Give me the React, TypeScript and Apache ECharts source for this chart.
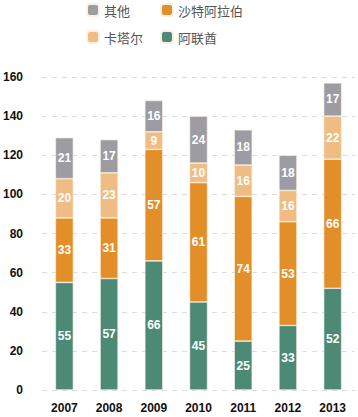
import React, { useEffect, useRef } from "react";
import * as echarts from "echarts";

const years = ["2007", "2008", "2009", "2010", "2011", "2012", "2013"];
const uae = [55, 57, 66, 45, 25, 33, 52];
const saudi = [33, 31, 57, 61, 74, 53, 66];
const qatar = [20, 23, 9, 10, 16, 16, 22];
const others = [21, 17, 16, 24, 18, 18, 17];
const yTicks = { min: 0, max: 160, interval: 20 };

const COLORS = {
  uae: "#4d8a76",
  saudi: "#e38f29",
  qatar: "#efbc84",
  others: "#9d9ca3",
};

export default function App() {
  const ref = useRef<HTMLDivElement>(null);
  useEffect(() => {
    if (!ref.current) return;
    const chart = echarts.init(ref.current, undefined, { renderer: "svg" });
    const font = "'Liberation Sans', Arial, sans-serif";
    const mk = (name: string, data: number[], color: string) => ({
      name,
      type: "bar",
      stack: "total",
      data,
      barWidth: 18,
      itemStyle: { color, borderColor: "#fbf1e2", borderWidth: 0.6 },
      label: {
        show: true,
        position: "inside",
        color: "#fff",
        fontWeight: "bold",
        fontSize: 12,
        fontFamily: font,
      },
    });
    const legendBase = {
      orient: "vertical",
      top: 3,
      itemWidth: 12,
      itemHeight: 12,
      itemGap: 13,
      icon: "roundRect",
      textStyle: {
        color: "#555",
        fontSize: 13,
        fontFamily: "'Noto Sans CJK SC', sans-serif",
        padding: [0, 0, 0, 0],
      },
      padding: 0,
    };
    chart.setOption({
      animation: false,
      backgroundColor: "#fff",
      legend: [
        { ...legendBase, left: 86, data: ["其他", "卡塔尔"] },
        { ...legendBase, left: 160, data: ["沙特阿拉伯", "阿联酋"] },
      ],
      grid: { left: 39, right: 3, top: 77, bottom: 27 },
      xAxis: {
        type: "category",
        data: years,
        axisLine: { show: false },
        axisTick: { show: false },
        axisLabel: {
          color: "#111",
          fontWeight: "bold",
          fontSize: 12,
          fontFamily: font,
          margin: 12,
        },
      },
      yAxis: {
        type: "value",
        ...yTicks,
        axisLine: { show: false },
        axisTick: { show: false },
        axisLabel: {
          color: "#111",
          fontWeight: "bold",
          fontSize: 12,
          fontFamily: font,
          margin: 19,
        },
        splitLine: {
          lineStyle: { color: "#dcdcdc", type: [5, 5], width: 1 },
        },
      },
      series: [
        mk("阿联酋", uae, COLORS.uae),
        mk("沙特阿拉伯", saudi, COLORS.saudi),
        mk("卡塔尔", qatar, COLORS.qatar),
        mk("其他", others, COLORS.others),
      ],
    });
    return () => chart.dispose();
  }, []);
  return <div ref={ref} style={{ width: 358, height: 417, position: "absolute", left: 0, top: 0 }} />;
}
